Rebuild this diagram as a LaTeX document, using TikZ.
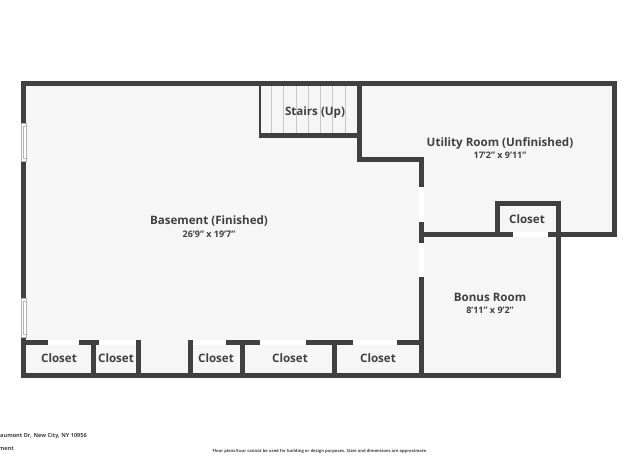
\documentclass[tikz,border=0pt]{standalone}
\usepackage{fontspec}
\setmainfont{Open Sans}
\definecolor{wallgray}{HTML}{404040}
\definecolor{floorgray}{HTML}{F6F6F6}
\tikzset{
    wall/.style={line width=5pt,color=wallgray,line cap=rect},
    gap/.style={fill=white,draw=none},
    pane/.style={fill=white,draw=black!30,line width=0.5pt},
    tread/.style={line width=0.6pt,color=black!22},
    roomname/.style={font=\fontsize{11.6}{13}\selectfont\bfseries,text=wallgray,inner sep=0pt},
    roomsize/.style={font=\fontsize{9}{11}\selectfont\bfseries,text=wallgray,inner sep=0pt},
    footnote/.style={font=\fontsize{5.6}{7}\selectfont\bfseries,text=wallgray,inner sep=0pt},
}
\begin{document}
\begin{tikzpicture}[x=1pt,y=-1pt]
    \useasboundingbox (0,0) rectangle (640,460);
    \fill[floorgray] (21,81) -- (617,81) -- (617,237) -- (561,237) -- (561,378) -- (21,378) -- cycle;
    % stair treads
    \foreach \x in {271.3,283.7,296,308.3,320.7,332.7,345}
        \draw[tread] (\x,86) -- (\x,133);
    % outer walls
    \draw[wall] (23.5,375.5) -- (23.5,83.5) -- (614.5,83.5) -- (614.5,234.5) -- (423,234.5);
    \draw[wall] (558.5,234.5) -- (558.5,375.5) -- (23.5,375.5);
    % inner walls
    \draw[wall] (359.5,83.5) -- (359.5,159.5) -- (421.5,159.5) -- (421.5,375.5);
    \draw[wall] (497.5,234.5) -- (497.5,203.5) -- (558.5,203.5) -- (558.5,234.5);
    % stairs
    \draw[wall,line width=2pt] (260,86) -- (260,135);
    \draw[wall] (261,135.5) -- (359.5,135.5);
    % closet row
    \draw[wall] (23.5,342.5) -- (419,342.5);
    \foreach \x in {93.5,138.5,190.5,242.5,334.5}
        \draw[wall] (\x,345) -- (\x,375);
    \draw[wall] (138.5,342.5) -- (138.5,345);
    \draw[wall] (190.5,342.5) -- (190.5,345);
    % openings in the closet row
    \fill[floorgray] (141,338) rectangle (188,373);
    \foreach \a/\b in {48/79,99/136,193/226,260/305.5,352.5/396.5}
        \fill[gap] (\a,340) rectangle (\b,345);
    % door of the utility closet
    \fill[gap] (513,232) rectangle (548,237);
    % windows
    \fill[gap] (419,187) rectangle (424,222);
    \fill[gap] (419,243) rectangle (424,276.5);
    \draw[pane] (21,123) rectangle (26,161);
    \draw[pane] (21,298) rectangle (26,337);
    \draw[pane] (23,126) rectangle (26,158);
    \draw[pane] (23,301) rectangle (26,334);
    % labels
    \node[roomname] (basement) at (209,221) {Basement (Finished)};
    \node[roomsize] (basementsize) at (209,234) {26'9" x 19'7"};
    \node[roomname] (stairs) at (315,112) {Stairs (Up)};
    \node[roomname] (utility) at (500,143) {Utility Room (Unfinished)};
    \node[roomsize] (utilitysize) at (500,155.5) {17'2" x 9'11"};
    \node[roomname] (utilitycloset) at (527,219.5) {Closet};
    \node[roomname] (bonus) at (490,297) {Bonus Room};
    \node[roomsize] (bonussize) at (490,310) {8'11" x 9'2"};
    \node[roomname] (closeta) at (59,358) {Closet};
    \node[roomname] (closetb) at (116,358.5) {Closet};
    \node[roomname] (closetc) at (216,358.5) {Closet};
    \node[roomname] (closetd) at (290,358.5) {Closet};
    \node[roomname] (closete) at (378,358.5) {Closet};
    % footer
    \node[footnote,anchor=east] (address) at (87,436.5) {aumont Dr, New City, NY 10956};
    \node[footnote,anchor=east] (kind) at (14,449) {ment};
    \node[footnote,font=\fontsize{4.15}{5}\selectfont\bfseries] (disclaimer) at (320,451) {Floor plans/tour cannot be used for building or design purposes. Sizes and dimensions are approximate.};
\end{tikzpicture}
\end{document}
